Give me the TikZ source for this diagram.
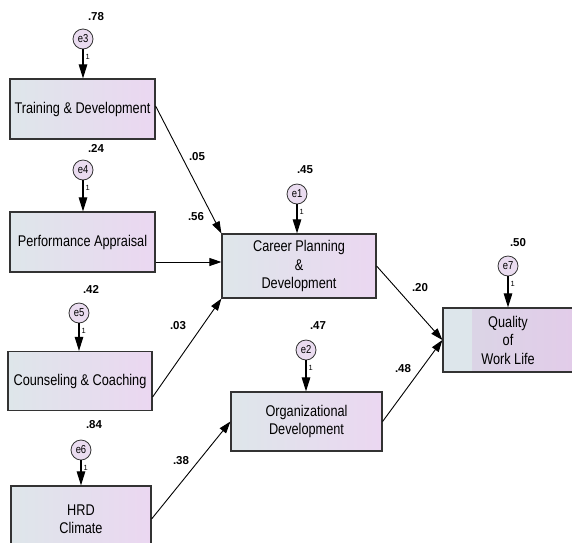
\documentclass[tikz,border=0pt]{standalone}
\usepackage{fontspec}
\setmainfont{Liberation Sans}
\newfontfamily\narrowfont[FakeStretch=0.82]{Liberation Sans}
\usetikzlibrary{arrows.meta}
\definecolor{boxL}{HTML}{DEE6EA}
\definecolor{boxR}{HTML}{EBD7F1}
\definecolor{errfill}{HTML}{EADCF0}
\definecolor{qwlL}{HTML}{DDE6EB}
\definecolor{qwlM}{HTML}{D9D7E5}
\definecolor{qwlR}{HTML}{E2CCE9}
\tikzset{
  obsbox/.style={draw=black!80, line width=1.2pt, left color=boxL, right color=boxR,
    align=center, inner sep=2pt, font=\narrowfont\fontsize{15.5}{18.5}\selectfont},
  errc/.style={circle, draw=black!80, line width=0.8pt, fill=errfill, minimum size=20pt,
    inner sep=0pt, font=\narrowfont\fontsize{11.5}{12}\selectfont},
  coef/.style={font=\bfseries\fontsize{11.5}{12}\selectfont, inner sep=1pt},
  one/.style={font=\fontsize{7.5}{8}\selectfont, inner sep=0.5pt, anchor=west},
  pathc/.style={draw=black, line width=0.9pt, -{Triangle[length=12pt,width=8pt]}},
  errpath/.style={draw=black, line width=1.1pt, -{Triangle[length=14pt,width=8.5pt]}},
}
\begin{document}
\begin{tikzpicture}[x=1pt,y=-1pt]
\useasboundingbox (0,0) rectangle (572,542);
% boxes
\node[obsbox, minimum width=145pt, minimum height=60pt] (td) at (82.5,109) {Training \& Development};
\node[obsbox, minimum width=145pt, minimum height=60pt] (pa) at (82.5,242) {Performance Appraisal};
\node[obsbox, minimum width=144pt, minimum height=59pt] (cc) at (80,381) {Counseling \& Coaching};
\node[obsbox, minimum width=140pt, minimum height=70pt] (hrd) at (81,521) {\raisebox{8pt}{\begin{tabular}{@{}c@{}}HRD\\Climate\end{tabular}}};
\node[obsbox, minimum width=154pt, minimum height=64pt] (cp) at (299,266) {Career Planning\\\&\\Development};
\node[obsbox, minimum width=151pt, minimum height=59pt] (od) at (306.5,421.5) {Organizational\\Development};
\node[obsbox, minimum width=130pt, minimum height=64pt, left color=qwlM, right color=qwlR,
  path picture={\fill[qwlL] (path picture bounding box.south west) rectangle ([xshift=29pt]path picture bounding box.north west);}] (qwl) at (508,340) {Quality\\of\\Work Life};
\draw[draw=black!80, line width=1.2pt] (qwl.south west) rectangle (qwl.north east);
% error terms
\node[errc] (e3) at (83,39) {e3};
\node[errc] (e4) at (83,170) {e4};
\node[errc] (e5) at (79,313) {e5};
\node[errc] (e6) at (81,450) {e6};
\node[errc] (e1) at (297,194) {e1};
\node[errc] (e2) at (306,350) {e2};
\node[errc] (e7) at (508,266) {e7};
% error arrows
\foreach \e/\b in {e3/td, e4/pa, e5/cc, e6/hrd, e1/cp, e2/od, e7/qwl}{
  \draw[errpath] (\e.south) -- (\e.south |- \b.north);
  \node[one] at ([xshift=2pt,yshift=-8pt]\e.south) {1};
}
% variances
\node[coef] (v3) at (96,17) {.78};
\node[coef] (v4) at (96,148) {.24};
\node[coef] (v5) at (91,289) {.42};
\node[coef] (v6) at (94,425) {.84};
\node[coef] (v1) at (305,170) {.45};
\node[coef] (v2) at (318,326) {.47};
\node[coef] (v7) at (518,243) {.50};
% paths
\coordinate (qin) at (qwl.west);
\draw[pathc] ([yshift=3pt]td.east) -- (cp.north west);
\draw[pathc] ([yshift=-20pt]pa.east) -- (cp.west |- {(0,262)});
\draw[pathc] ([yshift=-16pt]cc.east) -- (cp.south west);
\draw[pathc] (hrd.east |- {(0,519)}) -- (od.west);
\draw[pathc] (cp.east) -- (qin);
\draw[pathc] (od.east) -- (qin);
% path coefficients
\node[coef] (c1) at (197,157) {.05};
\node[coef] (c2) at (196,217) {.56};
\node[coef] (c3) at (178,326) {.03};
\node[coef] (c4) at (181,461) {.38};
\node[coef] (c5) at (420,288) {.20};
\node[coef] (c6) at (403,369) {.48};
\end{tikzpicture}
\end{document}
